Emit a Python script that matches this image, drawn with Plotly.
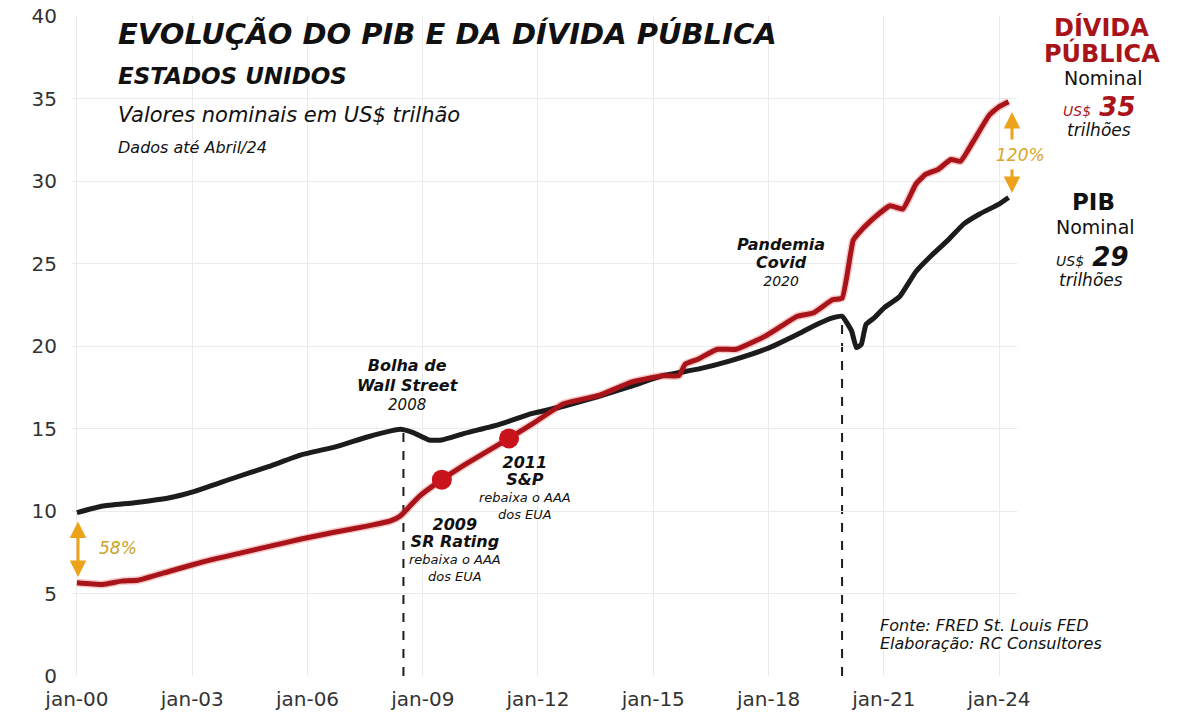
import plotly.graph_objects as go

# ---------------- data ----------------
pib_dates = ["2000-01-01", "2000-09-01", "2001-07-01", "2002-06-01", "2003-02-01", "2004-02-01",
             "2005-01-01", "2005-11-01", "2006-10-01", "2007-08-01", "2008-06-01", "2008-10-01",
             "2009-03-01", "2009-07-01", "2010-02-01", "2011-01-01", "2011-11-01", "2012-09-01",
             "2013-08-01", "2014-06-01", "2015-04-01", "2016-03-01", "2017-01-01", "2017-12-01",
             "2018-10-01", "2019-03-01", "2019-09-01", "2019-12-01", "2020-03-01", "2020-04-15",
             "2020-06-01", "2020-07-15", "2020-10-01", "2021-01-01", "2021-06-01", "2021-11-01",
             "2022-04-01", "2022-09-01", "2023-02-01", "2023-07-01", "2024-01-01", "2024-04-01"]
pib_values = [9.9, 10.3, 10.5, 10.8, 11.2, 12.0,
              12.7, 13.4, 13.9, 14.5, 14.95, 14.75,
              14.3, 14.3, 14.7, 15.25, 15.9, 16.35,
              16.95, 17.55, 18.2, 18.6, 19.1, 19.8,
              20.7, 21.2, 21.7, 21.8, 20.9, 19.9,
              20.1, 21.3, 21.7, 22.3, 23.0, 24.5,
              25.5, 26.4, 27.4, 28.0, 28.6, 29.0]

divida_dates = ["2000-01-01", "2000-09-01", "2001-03-01", "2001-08-01", "2002-06-01", "2003-05-01",
                "2004-04-01", "2005-02-01", "2005-11-01", "2006-09-01", "2007-08-01", "2008-03-01",
                "2008-06-01", "2008-09-01", "2008-12-01", "2009-07-01", "2010-02-01", "2011-04-01",
                "2011-11-01", "2012-09-01", "2013-08-01", "2014-01-01", "2014-06-01", "2015-04-01",
                "2015-09-01", "2015-11-01", "2016-03-01", "2016-09-01", "2017-03-01", "2017-12-01",
                "2018-05-01", "2018-10-01", "2019-03-01", "2019-09-01", "2019-12-01", "2020-03-15",
                "2020-05-01", "2020-09-01", "2021-03-01", "2021-07-01", "2021-11-01", "2022-02-01",
                "2022-06-01", "2022-10-01", "2023-01-01", "2023-05-01", "2023-10-01", "2024-01-01",
                "2024-04-01"]
divida_values = [5.65, 5.55, 5.75, 5.8, 6.35, 6.95,
                 7.45, 7.9, 8.3, 8.7, 9.1, 9.4,
                 9.7, 10.3, 10.9, 11.9, 12.8, 14.4,
                 15.25, 16.5, 17.0, 17.4, 17.8, 18.2,
                 18.2, 18.9, 19.2, 19.8, 19.8, 20.6,
                 21.2, 21.8, 22.0, 22.8, 22.9, 26.4,
                 26.8, 27.6, 28.5, 28.3, 29.8, 30.4,
                 30.7, 31.3, 31.2, 32.4, 34.0, 34.5,
                 34.8]

# rating downgrade markers on the debt line
rating_dates = ["2009-07-01", "2011-04-01"]
rating_values = [11.9, 14.4]

# crisis events (vertical dashed lines), value = PIB peak at the event
event_dates = ["2008-07-01", "2019-12-01"]
event_values = [14.95, 21.8]

tick_dates = ["2000-01-01", "2003-01-01", "2006-01-01", "2009-01-01", "2012-01-01",
              "2015-01-01", "2018-01-01", "2021-01-01", "2024-01-01"]
tick_labels = ["jan-00", "jan-03", "jan-06", "jan-09", "jan-12", "jan-15", "jan-18", "jan-21", "jan-24"]
y_ticks = [0, 5, 10, 15, 20, 25, 30, 35, 40]

# ---------------- styles ----------------
RED = "#a8141a"
BLACK = "#1c1c1c"
ORANGE = "#eca21a"
FONT = "DejaVu Sans"

# page pixel box of the plot area (page has an 8px body margin)
W, H = 1200, 719
BODY = 8
PL, PR, PT, PB = 72, 1017, 16, 676


def px(x):
    return (x - PL) / (PR - PL)


def py(y):
    return (PB - y) / (PB - PT)


fig = go.Figure()

fig.add_trace(go.Scatter(x=divida_dates, y=divida_values, mode="lines",
                         line=dict(color="rgba(220,40,40,0.25)", width=8, shape="spline", smoothing=0.4),
                         hoverinfo="skip", showlegend=False))
fig.add_trace(go.Scatter(x=pib_dates, y=pib_values, mode="lines", name="PIB",
                         line=dict(color=BLACK, width=5, shape="spline", smoothing=0.4), showlegend=False))
fig.add_trace(go.Scatter(x=divida_dates, y=divida_values, mode="lines", name="Dívida Pública",
                         line=dict(color=RED, width=5, shape="spline", smoothing=0.4), showlegend=False))
fig.add_trace(go.Scatter(x=rating_dates, y=rating_values, mode="markers",
                         marker=dict(color="#c8141a", size=20), showlegend=False))

for d, v in zip(event_dates, event_values):
    fig.add_shape(type="line", xref="x", yref="y", x0=d, x1=d, y0=0, y1=v,
                  line=dict(color=BLACK, width=2, dash="dash"), layer="below")

annotations = []


def txt(x, y, text, size, color="#111", xanchor="center", italic=True, bold=False, align="center"):
    t = text
    if bold:
        t = "<b>" + t + "</b>"
    annotations.append(dict(xref="paper", yref="paper", x=px(x), y=py(y), text=t, showarrow=False,
                            xanchor=xanchor, yanchor="middle", align=align,
                            font=dict(family=FONT, size=size, color=color,
                                      style="italic" if italic else "normal")))


def big(s, size=16):
    return "<span style='font-size:%dpx'><b>%s</b></span>" % (size, s)


# titles
txt(116, 34, "EVOLUÇÃO DO PIB E DA DÍVIDA PÚBLICA", 29, xanchor="left", bold=True)
txt(116, 76, "ESTADOS UNIDOS", 23, xanchor="left", bold=True)
txt(116, 115, "Valores nominais em US$ trilhão", 21, xanchor="left")
txt(116, 147, "Dados até Abril/24", 16, xanchor="left")

# right labels
txt(1101, 27, "DÍVIDA", 24, color=RED, italic=False, bold=True)
txt(1102, 53, "PÚBLICA", 24, color=RED, italic=False, bold=True)
txt(1103, 78, "Nominal", 19, italic=False)
txt(1099, 107, "<span style='font-size:14px'>US$</span> <b>35</b>", 26, color=RED)
txt(1099, 130, "trilhões", 17)

txt(1093, 202, "PIB", 23, italic=False, bold=True)
txt(1095, 227, "Nominal", 19, italic=False)
txt(1092, 257, "<span style='font-size:14px'>US$</span> <b>29</b>", 26)
txt(1091, 280, "trilhões", 17)

txt(1021, 155, "120%", 17, color="#d9a52a")
txt(118, 548, "58%", 17, color="#c9a227")

# event labels
txt(408, 385, big("Bolha de") + "<br>" + big("Wall Street") + "<br>2008", 15)
txt(455, 549, big("2009") + "<br>" + big("SR Rating") + "<br>rebaixa o AAA<br>dos EUA", 13)
txt(525, 488, big("2011") + "<br>" + big("S&P") + "<br>rebaixa o AAA<br>dos EUA", 13)
txt(781, 262, big("Pandemia") + "<br>" + big("Covid") + "<br>2020", 14)

txt(878, 625, "Fonte: FRED St. Louis FED", 16, xanchor="left")
txt(878, 643, "Elaboração: RC Consultores", 16, xanchor="left")


# arrows
def arrow(x, y_tail, y_head, both=False):
    annotations.append(dict(xref="paper", yref="paper", axref="pixel", ayref="pixel",
                            x=px(x), y=py(y_head), ax=0, ay=(y_tail - y_head), text="",
                            showarrow=True, arrowhead=2, arrowsize=1.1, arrowwidth=3,
                            arrowcolor=ORANGE, arrowside="end+start" if both else "end"))


arrow(78, 520, 577, both=True)
arrow(1012, 141, 112)
arrow(1012, 168, 193)

fig.update_layout(
    width=W, height=H,
    margin=dict(l=PL - BODY, r=W - PR + BODY, t=PT - BODY, b=H - PB + BODY, autoexpand=False),
    paper_bgcolor="white", plot_bgcolor="white",
    font=dict(family=FONT, color="#333"),
    annotations=annotations,
    xaxis=dict(type="date", range=["1999-11-15", "2024-06-20"], tickvals=tick_dates, ticktext=tick_labels,
               showgrid=True, gridcolor="#ebebeb", gridwidth=1, zeroline=False, showline=False,
               ticks="outside", ticklen=5, tickcolor="rgba(0,0,0,0)", automargin=False,
               ticklabeloverflow="allow",
               tickfont=dict(size=20, color="#333", family=FONT)),
    yaxis=dict(range=[0, 40], tickvals=y_ticks, showgrid=True, gridcolor="#ebebeb", gridwidth=1,
               zeroline=False, showline=False, ticks="outside", ticklen=10, tickcolor="rgba(0,0,0,0)",
               automargin=False, ticklabeloverflow="allow",
               tickfont=dict(size=20, color="#333", family=FONT)),
)

fig.write_html("out.html")
